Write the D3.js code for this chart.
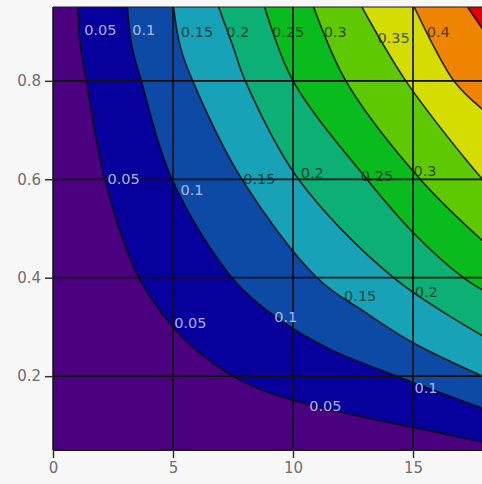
<!DOCTYPE html>
<html><head><meta charset="utf-8">
<script src="https://cdn.jsdelivr.net/npm/d3@7"></script>
<style>html,body{margin:0;padding:0;background:#f7f7f7;}svg{display:block;}</style>
</head><body>
<svg id="chart" width="482" height="484"></svg>
<script>
// ---- data ----
const levels = [0.05, 0.1, 0.15, 0.2, 0.25, 0.3, 0.35, 0.4, 0.45];
const bandColors = ["#4b0080", "#08009c", "#0d4aa6", "#17a2b8", "#0caf74",
                    "#09bb1c", "#5ec800", "#d4dc00", "#ef8400", "#e0000c"];
// contour lines: [x, y] points, ordered from top edge to right edge
const line05 = [[1.03,0.95],[1.14,0.87],[1.39,0.8],[2.15,0.6],[3.57,0.4],[5.0,0.3],[6.0,0.252],[7.5,0.2],[8.6,0.174],[10.0,0.151],[12.8,0.118],[15.0,0.096],[17.9,0.066]];
const line10 = [[3.1,0.95],[3.29,0.87],[3.68,0.8],[4.96,0.6],[7.46,0.4],[9.3,0.32],[11.5,0.256],[14.33,0.2],[17.9,0.135]];
const line15 = [[5.02,0.95],[5.3,0.87],[5.82,0.8],[7.87,0.6],[11.0,0.4],[13.0,0.33],[15.0,0.268],[17.9,0.2]];
const line20 = [[6.9,0.95],[7.5,0.87],[8.01,0.8],[10.23,0.6],[14.19,0.4],[17.9,0.282]];
const line25 = [[8.82,0.95],[10.0,0.8],[13.08,0.6],[15.0,0.492],[17.1,0.4],[17.9,0.375]];
const line30 = [[10.86,0.95],[12.2,0.8],[15.3,0.6],[17.9,0.475]];
const line35 = [[12.87,0.95],[14.7,0.8],[17.2,0.64],[17.9,0.6]];
const line40 = [[15.05,0.95],[16.7,0.8],[17.9,0.742]];
const line45 = [[17.27,0.95],[17.9,0.905]];
const contourLines = [line05, line10, line15, line20, line25, line30, line35, line40, line45];
// inline contour labels
const labelTexts = ["0.05","0.1","0.15","0.2","0.25","0.3","0.35","0.4",
                    "0.05","0.1","0.15","0.2","0.25","0.3",
                    "0.05","0.1","0.15","0.2",
                    "0.05","0.1"];
const labelXs = [1.97,3.78,6.0,7.7,9.8,11.76,14.19,16.05,
                 2.94,5.79,8.6,10.8,13.5,15.5,
                 5.72,9.7,12.8,15.55,
                 11.35,15.54];
const labelYs = [0.903,0.904,0.9,0.9,0.9,0.9,0.888,0.9,
                 0.6,0.579,0.6,0.612,0.607,0.616,
                 0.307,0.321,0.362,0.372,
                 0.139,0.175];
const xTicks = [0, 5, 10, 15];
const yTicks = [0.2, 0.4, 0.6, 0.8];
const xDomain = [0, 18];
const yDomain = [0.05, 0.95];

// ---- drawing ----
const svg = d3.select("#chart");
const W = 482, H = 484;
const x = d3.scaleLinear().domain(xDomain).range([53, 485]);
const y = d3.scaleLinear().domain(yDomain).range([450, 7]);

svg.append("rect").attr("width", W).attr("height", H).attr("fill", "#f7f7f7");

svg.append("defs").append("clipPath").attr("id", "plotclip")
  .append("rect")
  .attr("x", x(xDomain[0])).attr("y", y(yDomain[1]))
  .attr("width", x(xDomain[1]) - x(xDomain[0]))
  .attr("height", y(yDomain[0]) - y(yDomain[1]));

const plot = svg.append("g").attr("clip-path", "url(#plotclip)");

// lowest band
plot.append("rect")
  .attr("x", x(xDomain[0])).attr("y", y(yDomain[1]))
  .attr("width", x(xDomain[1]) - x(xDomain[0]))
  .attr("height", y(yDomain[0]) - y(yDomain[1]))
  .attr("fill", bandColors[0]);

const lineGen = d3.line().x(d => x(d[0])).y(d => y(d[1])).curve(d3.curveCatmullRom.alpha(0.5));

// filled regions above each level
contourLines.forEach((pts, i) => {
  const first = pts[0], last = pts[pts.length - 1];
  const farX = x(xDomain[1]) + 30, farY = y(yDomain[1]) - 30;
  const d = lineGen(pts) +
    "L" + farX + "," + y(last[1]) +
    "L" + farX + "," + farY +
    "L" + x(first[0]) + "," + farY + "Z";
  plot.append("path").attr("d", d).attr("fill", bandColors[i + 1]);
});

// contour lines
contourLines.forEach(pts => {
  plot.append("path").attr("d", lineGen(pts))
    .attr("fill", "none").attr("stroke", "#0a0a0a")
    .attr("stroke-opacity", 0.85).attr("stroke-width", 1.6);
});

// grid lines
plot.selectAll(".gx").data(xTicks.filter(t => t > xDomain[0])).enter().append("line")
  .attr("x1", d => x(d)).attr("x2", d => x(d))
  .attr("y1", y(yDomain[0])).attr("y2", y(yDomain[1]))
  .attr("stroke", "#111").attr("stroke-width", 1.7);
plot.selectAll(".gy").data(yTicks).enter().append("line")
  .attr("y1", d => y(d)).attr("y2", d => y(d))
  .attr("x1", x(xDomain[0])).attr("x2", x(xDomain[1]))
  .attr("stroke", "#111").attr("stroke-width", 1.7);

// contour labels
const lightLevels = ["0.05", "0.1"];
plot.selectAll(".clabel").data(labelTexts).enter().append("text")
  .attr("x", (d, i) => x(labelXs[i]))
  .attr("y", (d, i) => y(labelYs[i]))
  .attr("text-anchor", "middle")
  .attr("dominant-baseline", "central")
  .attr("font-family", "DejaVu Sans, sans-serif")
  .attr("font-size", "14.5px")
  .attr("fill", d => lightLevels.includes(d) ? "#c4c8ff" : "#1c2a24")
  .attr("fill-opacity", d => lightLevels.includes(d) ? 0.9 : 0.8)
  .text(d => d);

// frame
svg.append("line").attr("x1", x(xDomain[0])).attr("x2", x(xDomain[0]))
  .attr("y1", y(yDomain[1])).attr("y2", y(yDomain[0]))
  .attr("stroke", "#1a1a1a").attr("stroke-width", 1.6);
svg.append("line").attr("x1", x(xDomain[0])).attr("x2", W)
  .attr("y1", y(yDomain[0])).attr("y2", y(yDomain[0]))
  .attr("stroke", "#1a1a1a").attr("stroke-width", 1.8);
svg.append("line").attr("x1", x(xDomain[0])).attr("x2", W)
  .attr("y1", y(yDomain[1])).attr("y2", y(yDomain[1]))
  .attr("stroke", "#1a1a1a").attr("stroke-width", 1);

// axes
const xAxis = d3.axisBottom(x).tickValues(xTicks).tickSize(8).tickPadding(4).tickFormat(d3.format("d"));
const yAxis = d3.axisLeft(y).tickValues(yTicks).tickSize(8).tickPadding(4).tickFormat(d3.format(".1f"));
const gx = svg.append("g").attr("transform", `translate(0,${y(yDomain[0])})`).call(xAxis);
const gy = svg.append("g").attr("transform", `translate(${x(xDomain[0])},0)`).call(yAxis);
[gx, gy].forEach(g => {
  g.select(".domain").remove();
  g.selectAll(".tick line").attr("stroke", "#333").attr("stroke-width", 1.5);
  g.selectAll(".tick text").attr("fill", "#6e6e6e")
    .attr("font-family", "DejaVu Sans, sans-serif").attr("font-size", "15px");
});
</script>
</body></html>
